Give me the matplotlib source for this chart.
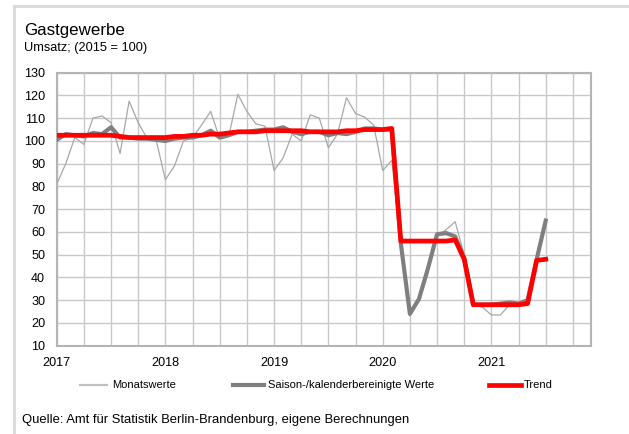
import matplotlib
matplotlib.use("Agg")
import matplotlib.pyplot as plt
from matplotlib.lines import Line2D
import numpy as np

plt.rcParams['font.family'] = ['Liberation Sans', 'DejaVu Sans']

# Monthly values Jan 2017 .. Jul 2021
monatswerte = [
    81, 90, 101.5, 98.5, 110, 111, 108, 94.5, 117.5, 108, 101, 100,
    83, 89, 100, 101.5, 107, 113, 101, 102, 120.5, 113, 107.5, 106.5,
    87, 92.5, 103, 100, 111.5, 110, 97, 103, 119, 112, 110.5, 107,
    87, 91.5, 55, 23, 31, 45, 58, 61, 64.5, 50, 28, 27,
    23.5, 23.5, 28, 28.5, 30, 48, 65,
]
saison = [
    100.5, 103, 102.5, 102, 103.5, 103, 106, 101.5, 101.5, 101, 101, 100.5,
    100, 101, 101.5, 101.5, 102.5, 104.5, 101.5, 102.5, 104, 104, 104.5, 105,
    105, 106, 104, 103, 104, 104, 102.5, 103.5, 103, 104, 105.5, 105.5,
    105, 105, 55, 24, 30.5, 44, 59, 59.5, 58, 48.5, 28, 28,
    28, 28.5, 29, 28.5, 30, 48, 65,
]
trend = [
    102.5, 102.5, 102.5, 102.5, 102.5, 102.5, 102.5, 102, 101.5, 101.5, 101.5, 101.5,
    101.5, 102, 102, 102.5, 102.5, 103, 103, 103.5, 104, 104, 104, 104.5,
    104.5, 104.5, 104.5, 104.5, 104, 104, 104, 104, 104.5, 104.5, 105, 105,
    105, 105.5, 56, 56, 56, 56, 56, 56, 56.5, 48, 28, 28,
    28, 28, 28, 28, 28.5, 47.5, 48,
]
year_labels = ["2017", "2018", "2019", "2020", "2021"]
y_ticks = list(range(10, 131, 10))
legend_labels = ["Monatswerte", "Saison-/kalenderbereinigte Werte", "Trend"]

W, H = 629, 434
fig = plt.figure(figsize=(W / 100, H / 100), dpi=100)
ax = fig.add_axes([56.7 / W, 1 - 345.7 / H, (591 - 56.7) / W, (345.7 - 72.7) / H])

x = np.arange(len(monatswerte))
c_thin, c_gray, c_red = "#a8a8a8", "#7f7f7f", "#ff0000"
ax.plot(x, monatswerte, color=c_thin, lw=0.9, zorder=3)
ax.plot(x, saison, color=c_gray, lw=3.0, zorder=4, solid_joinstyle="round")
ax.plot(x, trend, color=c_red, lw=3.4, zorder=5, solid_joinstyle="round")

ax.set_xlim(0, 59)
ax.set_ylim(10, 130)
ax.set_yticks(y_ticks)
ax.set_xticks([0, 12, 24, 36, 48])
ax.set_xticklabels(year_labels)
ax.set_xticks(np.arange(0, 60, 3), minor=True)
ax.grid(True, which="both", axis="x", color="#c8c8c8", lw=1.0, zorder=0)
ax.grid(True, which="major", axis="y", color="#c8c8c8", lw=1.0, zorder=0)
ax.tick_params(axis="both", which="both", length=0, labelsize=9.1, colors="black")
ax.tick_params(axis="y", pad=8.4)
ax.tick_params(axis="x", pad=8)
for s in ax.spines.values():
    s.set_color("#b4b4b4")
    s.set_linewidth(1.5)

# outer frame
fig.add_artist(Line2D([13.5 / W, 13.5 / W], [0, 1 - 5.5 / H], transform=fig.transFigure,
                      color="#d9d9d9", lw=2.0))
fig.add_artist(Line2D([13.5 / W, 1], [1 - 5.5 / H, 1 - 5.5 / H], transform=fig.transFigure,
                      color="#d9d9d9", lw=2.0))

fig.text(24 / W, 1 - 30 / H, "Gastgewerbe", fontsize=12.2, va="center", ha="left")
fig.text(24 / W, 1 - 48 / H, "Umsatz; (2015 = 100)", fontsize=9.2, va="center", ha="left")

# legend
ly = 1 - 385 / H
keys = [(80, 107, 112, "#c0c0c0", 1.6), (233, 264, 268, c_gray, 3.0), (489, 521, 524, c_red, 3.4)]
for (x0, x1, xt, col, lw), lab in zip(keys, legend_labels):
    fig.add_artist(Line2D([x0 / W, x1 / W], [ly, ly], transform=fig.transFigure, color=col, lw=lw))
    fig.text(xt / W, ly, lab, fontsize=8.0, va="center", ha="left")

fig.text(22 / W, 1 - 420 / H, "Quelle: Amt für Statistik Berlin-Brandenburg, eigene Berechnungen",
         fontsize=9.4, va="center", ha="left")

fig.savefig("out.png", dpi=100)
